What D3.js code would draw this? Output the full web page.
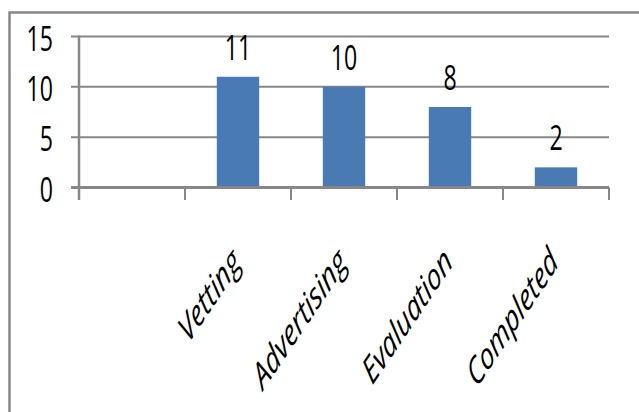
<!DOCTYPE html>
<html><head><meta charset="utf-8">
<script src="https://cdn.jsdelivr.net/npm/d3@7"></script>
<style>body{margin:0;background:#fff}svg{display:block}</style>
</head><body>
<svg id="c" width="639" height="412"></svg>
<script>
const categories = ["", "Vetting", "Advertising", "Evaluation", "Completed"];
const values = [null, 11, 10, 8, 2];
const yTicks = [0, 5, 10, 15];

const svg = d3.select("#c");
const sx = 0.68;   // horizontal squeeze of numbers
const sxl = 0.67;  // horizontal squeeze of category labels
const font = "'Open Sans', 'Noto Sans', sans-serif";
const grey = "#878787";

// frame
svg.append("rect").attr("x", 9.5).attr("y", 12.5).attr("width", 700).attr("height", 500)
  .attr("fill", "none").attr("stroke", grey).attr("stroke-width", 2.5);

const x = d3.scaleBand().domain(categories).range([79, 609]);
const y = d3.scaleLinear().domain([0, 15]).range([187.5, 36.5]);
const bw = x.bandwidth() / 2.5;
const cx = d => x(d) + x.bandwidth() / 2;

// gridlines
svg.append("g").selectAll("line").data(yTicks.filter(t => t !== 0)).join("line")
  .attr("x1", 71).attr("x2", 609).attr("y1", d => y(d)).attr("y2", d => y(d))
  .attr("stroke", grey).attr("stroke-width", 2);

// y axis line
svg.append("line").attr("x1", 79).attr("x2", 79).attr("y1", y(15) - 1).attr("y2", 200)
  .attr("stroke", grey).attr("stroke-width", 2.5);

// x ticks at band boundaries
svg.append("g").selectAll("line").data(categories.slice(1).concat(["__end"])).join("line")
  .attr("x1", d => d === "__end" ? x.range()[1] : x(d)).attr("x2", d => d === "__end" ? x.range()[1] : x(d))
  .attr("y1", y(0)).attr("y2", 200)
  .attr("stroke", grey).attr("stroke-width", 2);

// bars
const data = categories.map((c, i) => ({c, v: values[i]})).filter(d => d.v != null);
svg.append("g").selectAll("rect").data(data).join("rect")
  .attr("x", d => cx(d.c) - bw / 2)
  .attr("width", bw)
  .attr("y", d => y(d.v)).attr("height", d => y(0) - y(d.v))
  .attr("fill", "#4A7AB4");

// x axis line
svg.append("line").attr("x1", 71).attr("x2", 609).attr("y1", y(0)).attr("y2", y(0))
  .attr("stroke", grey).attr("stroke-width", 3);

// y tick labels
svg.append("g").selectAll("text").data(yTicks).join("text")
  .attr("transform", d => `translate(53,${y(d) + 14}) scale(${sx},1)`)
  .attr("text-anchor", "end").attr("font-family", font).attr("font-size", 34)
  .attr("fill", "#000").text(d => d);

// data labels
svg.append("g").selectAll("text").data(data).join("text")
  .attr("transform", d => `translate(${cx(d.c)},${y(d.v) - 17}) scale(${sx},1)`)
  .attr("text-anchor", "middle").attr("font-family", font).attr("font-size", 34)
  .attr("fill", "#000").text(d => d.v);

// category labels (rotated)
svg.append("g").selectAll("text").data(categories.slice(1)).join("text")
  .attr("transform", d => `translate(${cx(d) + 4},264) scale(${sxl},1) rotate(-45)`)
  .attr("text-anchor", "end").attr("font-family", font).attr("font-size", 37)
  .attr("font-style", "italic").attr("fill", "#000").text(d => d);
</script>
</body></html>
